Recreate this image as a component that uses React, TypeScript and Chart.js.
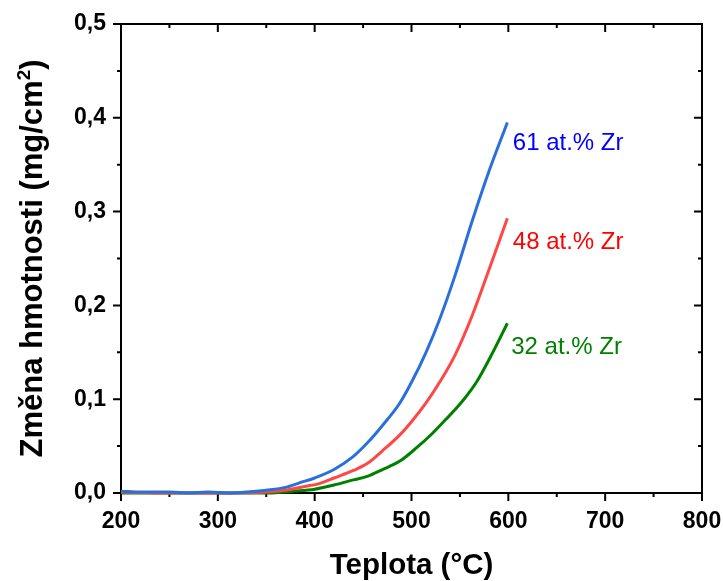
import React, { useEffect, useRef } from "react";
import { Chart, registerables } from "chart.js";

Chart.register(...registerables);

// ---- data ----
const blueTemps = [200, 220, 250, 270, 290, 310, 330, 350, 370, 385, 400, 420, 440, 455, 470, 488, 500, 515, 529, 545, 563, 580, 599];
const blueValues = [0.002, 0.001, 0.001, 0.0, 0.001, 0.0, 0.001, 0.003, 0.006, 0.011, 0.016, 0.025, 0.039, 0.054, 0.072, 0.096, 0.118, 0.15, 0.185, 0.232, 0.291, 0.343, 0.395];

const redTemps = [200, 250, 300, 350, 370, 390, 405, 420, 440, 455, 470, 488, 500, 515, 529, 545, 563, 580, 599];
const redValues = [0.001, 0.0, 0.0, 0.001, 0.003, 0.007, 0.01, 0.016, 0.024, 0.032, 0.045, 0.062, 0.076, 0.096, 0.118, 0.147, 0.19, 0.238, 0.293];

const greenTemps = [200, 250, 300, 350, 380, 400, 420, 440, 455, 470, 488, 505, 522, 535, 546, 555, 567, 583, 599];
const greenValues = [0.0, 0.0, 0.0, 0.0, 0.002, 0.004, 0.0085, 0.014, 0.018, 0.025, 0.034, 0.048, 0.064, 0.078, 0.09, 0.101, 0.118, 0.148, 0.181];

const seriesLabels = ["61 at.% Zr", "48 at.% Zr", "32 at.% Zr"];
const labelX = [604.6, 604.6, 603];
const labelY = [0.373, 0.267, 0.155];

const xTitle = "Teplota (°C)";
const yTitleMain = "Změna hmotnosti (mg/cm";
const yTitleSup = "2";
const yTitleEnd = ")";

const lineColors = ["#2a70dc", "#ff4747", "#008000"];
const labelColors = ["#0000ff", "#ff0000", "#008000"];

const FONT = "'Liberation Sans', Arial, sans-serif";

const toXY = (xs: number[], ys: number[]) => xs.map((x, i) => ({ x, y: ys[i] }));

const framePlugin = {
  id: "framePlugin",
  beforeDatasetsDraw(chart: any) {
    const { ctx, chartArea } = chart;
    const { left, right, top, bottom } = chartArea;
    const xs = chart.scales.x;
    const ys = chart.scales.y;
    ctx.save();
    ctx.strokeStyle = "#000";
    ctx.lineWidth = 2;
    ctx.strokeRect(left, top, right - left, bottom - top);
    const major = 8;
    const minor = 4;
    ctx.beginPath();
    const xt = xs.ticks.map((t: any) => t.value);
    xt.forEach((v: number, i: number) => {
      const px = xs.getPixelForValue(v);
      ctx.moveTo(px, bottom);
      ctx.lineTo(px, bottom + major);
      ctx.moveTo(px, top);
      ctx.lineTo(px, top + major);
      if (i < xt.length - 1) {
        const m = xs.getPixelForValue((v + xt[i + 1]) / 2);
        ctx.moveTo(m, bottom);
        ctx.lineTo(m, bottom + minor);
        ctx.moveTo(m, top);
        ctx.lineTo(m, top + minor);
      }
    });
    const yt = ys.ticks.map((t: any) => t.value);
    yt.forEach((v: number, i: number) => {
      const py = ys.getPixelForValue(v);
      ctx.moveTo(left, py);
      ctx.lineTo(left - major, py);
      ctx.moveTo(right, py);
      ctx.lineTo(right - major, py);
      if (i < yt.length - 1) {
        const m = ys.getPixelForValue((v + yt[i + 1]) / 2);
        ctx.moveTo(left, m);
        ctx.lineTo(left - minor, m);
        ctx.moveTo(right, m);
        ctx.lineTo(right - minor, m);
      }
    });
    ctx.stroke();
    ctx.restore();
  },
  afterDraw(chart: any) {
    const { ctx, chartArea } = chart;
    const xs = chart.scales.x;
    const ys = chart.scales.y;
    ctx.save();
    // x title
    ctx.fillStyle = "#000";
    ctx.font = `bold 29.5px ${FONT}`;
    ctx.textAlign = "center";
    ctx.textBaseline = "alphabetic";
    ctx.fillText(xTitle, (chartArea.left + chartArea.right) / 2, 574);

    // y title (rotated, with superscript)
    const fs = 31;
    const mainFont = `bold ${fs}px ${FONT}`;
    const supFont = `bold ${Math.round(fs * 0.6)}px ${FONT}`;
    ctx.font = mainFont;
    const w1 = ctx.measureText(yTitleMain).width;
    const w3 = ctx.measureText(yTitleEnd).width;
    ctx.font = supFont;
    const w2 = ctx.measureText(yTitleSup).width;
    const total = w1 + w2 + w3;
    ctx.translate(42, (chartArea.top + chartArea.bottom) / 2);
    ctx.rotate(-Math.PI / 2);
    ctx.textAlign = "left";
    let x0 = -total / 2;
    ctx.font = mainFont;
    ctx.fillText(yTitleMain, x0, 0);
    x0 += w1;
    ctx.font = supFont;
    ctx.fillText(yTitleSup, x0, -fs * 0.4);
    x0 += w2;
    ctx.font = mainFont;
    ctx.fillText(yTitleEnd, x0, 0);
    ctx.restore();

    // series labels
    ctx.save();
    ctx.font = `24px ${FONT}`;
    ctx.textAlign = "left";
    ctx.textBaseline = "middle";
    seriesLabels.forEach((lab, i) => {
      ctx.fillStyle = labelColors[i];
      ctx.fillText(lab, xs.getPixelForValue(labelX[i]), ys.getPixelForValue(labelY[i]));
    });
    ctx.restore();
  },
};

export default function App() {
  const ref = useRef<HTMLCanvasElement | null>(null);
  useEffect(() => {
    if (!ref.current) return;
    const mk = (data: any, i: number) => ({
      data,
      borderColor: lineColors[i],
      borderWidth: 3,
      pointRadius: 0,
      cubicInterpolationMode: "monotone" as const,
      fill: false,
      clip: false as any,
    });
    const chart = new Chart(ref.current, {
      type: "line",
      data: {
        datasets: [
          mk(toXY(blueTemps, blueValues), 0),
          mk(toXY(redTemps, redValues), 1),
          mk(toXY(greenTemps, greenValues), 2),
        ],
      },
      options: {
        responsive: false,
        animation: false,
        events: [],
        layout: { padding: { left: 0, top: 24, right: 21, bottom: 0 } },
        plugins: { legend: { display: false }, tooltip: { enabled: false }, title: { display: false } },
        scales: {
          x: {
            type: "linear",
            min: 200,
            max: 800,
            grid: { display: false, drawTicks: false },
            border: { display: false },
            ticks: {
              stepSize: 100,
              padding: 15,
              color: "#000",
              font: { family: FONT, size: 23, weight: "bold" },
              maxRotation: 0,
            },
            afterFit: (s: any) => {
              s.height = 88;
              s.paddingLeft = 0;
              s.paddingRight = 0;
            },
          },
          y: {
            type: "linear",
            min: 0,
            max: 0.5,
            grid: { display: false, drawTicks: false },
            border: { display: false },
            ticks: {
              stepSize: 0.1,
              padding: 15,
              color: "#000",
              font: { family: FONT, size: 23, weight: "bold" },
              callback: (v: any) => Number(v).toFixed(1).replace(".", ","),
            },
            afterFit: (s: any) => {
              s.width = 121;
              s.paddingTop = 0;
              s.paddingBottom = 0;
            },
          },
        },
      },
      plugins: [framePlugin],
    });
    return () => chart.destroy();
  }, []);
  return (
    <div style={{ position: "absolute", left: 0, top: 0, width: 723, height: 581, background: "#fff" }}>
      <canvas ref={ref} width={723} height={581} style={{ display: "block" }} />
    </div>
  );
}
